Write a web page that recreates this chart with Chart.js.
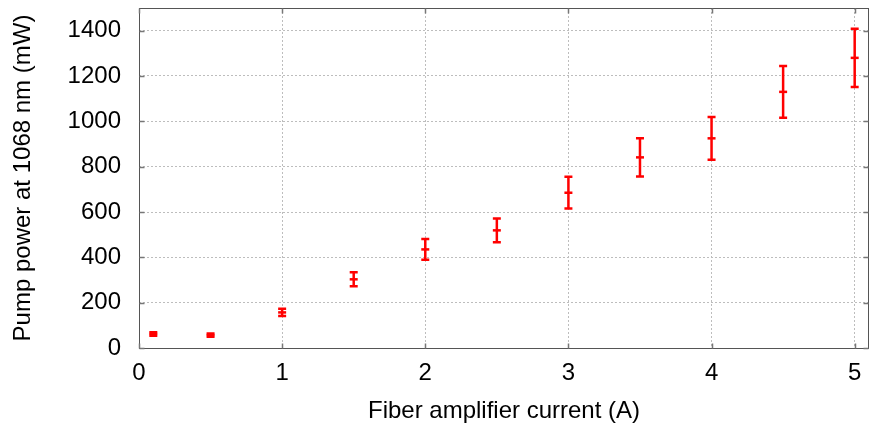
<!DOCTYPE html>
<html>
<head>
<meta charset="utf-8">
<script src="https://cdn.jsdelivr.net/npm/chart.js@4.4.0/dist/chart.umd.min.js"></script>
<style>
  body { margin: 0; background: #fff; }
  canvas { display: block; }
</style>
</head>
<body>
<canvas id="pumpchart" width="869" height="433"></canvas>
<script>
'use strict';

// fiber amplifier current (A) vs pump power at 1068 nm (mW)
var current = [0.1, 0.5, 1, 1.5, 2, 2.5, 3, 3.5, 4, 4.5, 5];
var power = [62, 57, 157, 303, 435, 519, 685, 841, 925, 1130, 1280];
var powerErr = [8, 7, 16, 31, 46, 52, 70, 84, 94, 114, 128];

var xTicks = [0, 1, 2, 3, 4, 5];
var yTicks = [0, 200, 400, 600, 800, 1000, 1200, 1400];

var points = current.map(function(x, i) {
    return { x: x, y: power[i] };
});

var RED = '#ff0000';
var FONT = "'Liberation Sans', Arial, sans-serif";

// vertical error bars with caps, drawn before the point markers
var errorBars = {
    id: 'errorBars',
    beforeDatasetsDraw: function(chart) {
        var ctx = chart.ctx;
        var xs = chart.scales.x, ys = chart.scales.y;
        ctx.save();
        ctx.strokeStyle = RED;
        ctx.lineWidth = 2.5;
        ctx.lineCap = 'butt';
        for (var i = 0; i < current.length; i++) {
            var px = xs.getPixelForValue(current[i]);
            var top = ys.getPixelForValue(power[i] + powerErr[i]);
            var bot = ys.getPixelForValue(power[i] - powerErr[i]);
            ctx.beginPath();
            ctx.moveTo(px, top);
            ctx.lineTo(px, bot);
            ctx.moveTo(px - 4, top);
            ctx.lineTo(px + 4, top);
            ctx.moveTo(px - 4, bot);
            ctx.lineTo(px + 4, bot);
            ctx.stroke();
        }
        ctx.restore();
    }
};

// box around the plot with small inward ticks on all four sides
var frame = {
    id: 'frame',
    afterDatasetsDraw: function(chart) {
        var ctx = chart.ctx, a = chart.chartArea;
        var xs = chart.scales.x, ys = chart.scales.y;
        var l = Math.round(a.left) + 0.5, r = Math.round(a.right) - 0.5;
        var t = Math.round(a.top) + 0.5, b = Math.round(a.bottom) + 0.5;
        ctx.save();
        ctx.strokeStyle = '#555';
        ctx.lineWidth = 1;
        ctx.strokeRect(l, t, r - l, b - t);
        ctx.strokeStyle = '#777';
        ctx.lineWidth = 1.5;
        ctx.beginPath();
        xTicks.forEach(function(v) {
            var px = Math.round(xs.getPixelForValue(v)) + 0.5;
            ctx.moveTo(px, b); ctx.lineTo(px, b - 5);
            ctx.moveTo(px, t); ctx.lineTo(px, t + 5);
        });
        yTicks.forEach(function(v) {
            var py = Math.round(ys.getPixelForValue(v)) + 0.5;
            ctx.moveTo(l, py); ctx.lineTo(l + 5, py);
            ctx.moveTo(r, py); ctx.lineTo(r - 5, py);
        });
        ctx.stroke();
        ctx.restore();
    }
};

var gridOpts = {
    color: '#bdbdbd',
    lineWidth: 1,
    drawTicks: false
};

function plainLabel(v) {
    return String(v);
}

var myChart = new Chart(document.getElementById('pumpchart'), {
    type: 'scatter',
    data: {
        datasets: [{
            data: points,
            borderColor: RED,
            backgroundColor: RED,
            pointStyle: 'line',
            pointRadius: 4,
            pointHoverRadius: 4,
            borderWidth: 2.5
        }]
    },
    plugins: [errorBars, frame],
    options: {
        responsive: false,
        animation: false,
        events: [],
        layout: {
            autoPadding: false,
            padding: { top: 8, right: 0, left: 0, bottom: 0 }
        },
        plugins: {
            legend: { display: false },
            tooltip: { enabled: false }
        },
        scales: {
            x: {
                type: 'linear',
                min: 0,
                max: 5.1,
                afterFit: function(scale) {
                    scale.height = 85;
                    scale.paddingLeft = 0;
                    scale.paddingRight = 0;
                },
                afterBuildTicks: function(scale) {
                    scale.ticks = xTicks.map(function(v) { return { value: v }; });
                },
                grid: gridOpts,
                border: { display: false, dash: [2, 2] },
                ticks: {
                    padding: 11,
                    color: '#000',
                    font: { family: FONT, size: 24 },
                    callback: plainLabel
                },
                title: {
                    display: true,
                    text: 'Fiber amplifier current (A)',
                    color: '#000',
                    font: { family: FONT, size: 24 },
                    padding: { top: 0, bottom: 7 }
                }
            },
            y: {
                type: 'linear',
                min: 0,
                max: 1500,
                afterFit: function(scale) {
                    scale.width = 139;
                    scale.paddingTop = 0;
                    scale.paddingBottom = 0;
                },
                afterBuildTicks: function(scale) {
                    scale.ticks = yTicks.map(function(v) { return { value: v }; });
                },
                grid: gridOpts,
                border: { display: false, dash: [2, 2] },
                ticks: {
                    padding: 18,
                    color: '#000',
                    font: { family: FONT, size: 24 },
                    callback: plainLabel
                },
                title: {
                    display: true,
                    text: 'Pump power at 1068 nm (mW)',
                    color: '#000',
                    font: { family: FONT, size: 24 },
                    padding: { top: 9, bottom: 0 }
                }
            }
        }
    }
});
</script>
</body>
</html>
